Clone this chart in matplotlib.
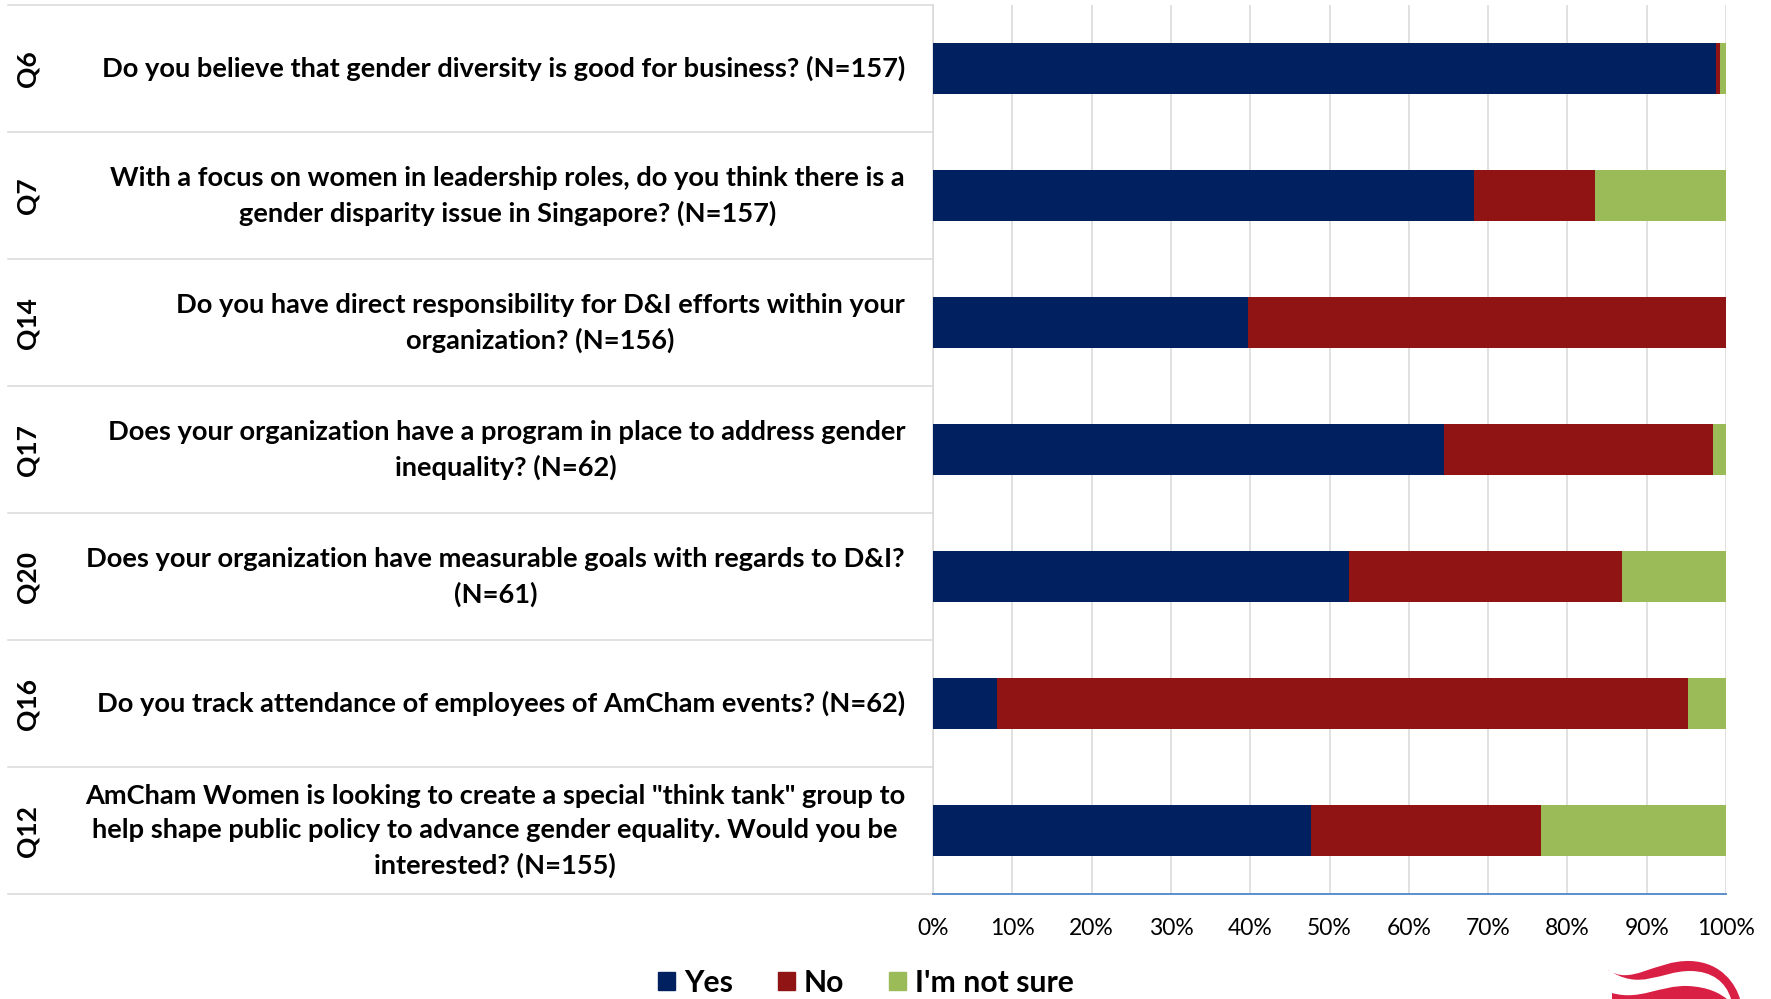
import numpy as np
import matplotlib
matplotlib.use("Agg")
import matplotlib.pyplot as plt
from matplotlib.patches import Patch, PathPatch
from matplotlib.path import Path

plt.rcParams['font.family'] = ['Lato', 'DejaVu Sans']

# survey questions, top to bottom
qids = ['Q6', 'Q7', 'Q14', 'Q17', 'Q20', 'Q16', 'Q12']
questions = [
    'Do you believe that gender diversity is good for business? (N=157)',
    'With a focus on women in leadership roles, do you think there is a\n'
    'gender disparity issue in Singapore? (N=157)',
    'Do you have direct responsibility for D&I efforts within your\n'
    'organization? (N=156)',
    'Does your organization have a program in place to address gender\n'
    'inequality? (N=62)',
    'Does your organization have measurable goals with regards to D&I?\n'
    '(N=61)',
    'Do you track attendance of employees of AmCham events? (N=62)',
    'AmCham Women is looking to create a special "think tank" group to\n'
    'help shape public policy to advance gender equality. Would you be\n'
    'interested? (N=155)',
]

# share of answers, percent
yes = [98.7, 68.2, 39.7, 64.5, 52.5, 8.1, 47.7]
no = [0.6, 15.3, 60.3, 33.9, 34.4, 87.1, 29.0]
not_sure = [0.7, 16.5, 0.0, 1.6, 13.1, 4.8, 23.3]

series = ['Yes', 'No', "I'm not sure"]
colors = ['#002060', '#901414', '#9BBB59']
grid_c = '#d9d9d9'

W, H = 1771, 999
fig = plt.figure(figsize=(W / 100, H / 100), dpi=100)
ax = fig.add_axes([933 / W, 1 - 894.3 / H, 793 / W, 889 / H])

y = np.arange(len(qids))
left = np.zeros(len(qids))
for vals, c, name in zip([yes, no, not_sure], colors, series):
    ax.barh(y, vals, left=left, height=0.4, color=c, label=name, zorder=3)
    left += np.array(vals)

ax.set_xlim(0, 100)
ax.set_ylim(len(qids) - 0.5, -0.5)
ax.set_xticks(np.arange(0, 101, 10))
ax.set_xticklabels([f'{v}%' for v in range(0, 101, 10)], fontsize=16.5)
ax.tick_params(axis='x', length=0, pad=17)
ax.set_yticks([])
ax.grid(axis='x', color=grid_c, lw=1.1, zorder=0)

for s in ['top', 'right']:
    ax.spines[s].set_visible(False)
ax.spines['left'].set_color(grid_c)
ax.spines['left'].set_linewidth(1.1)
ax.spines['bottom'].set_color('#5B8FCB')
ax.spines['bottom'].set_linewidth(1.4)
ax.spines['bottom'].set_zorder(4)

# table-style category area on the left
x_edge = (8 - 933) / 793
for yy in np.arange(-0.5, len(qids), 1.0):
    ax.plot([x_edge, 0], [yy, yy], color=grid_c, lw=1.1,
            transform=ax.get_yaxis_transform(), clip_on=False)

for i, (q, txt) in enumerate(zip(qids, questions)):
    ax.text(-0.0353, i, txt, transform=ax.get_yaxis_transform(),
            ha='right', va='center', multialignment='center',
            fontsize=19.6, fontweight='bold', linespacing=1.5)
    ax.text((28 - 933) / 793, i, q, transform=ax.get_yaxis_transform(),
            ha='center', va='center', rotation=90,
            fontsize=19, fontweight='bold')

handles = [Patch(color=c, label=n) for c, n in zip(colors, series)]
fig.legend(handles=handles, loc='center', ncol=3, frameon=False,
           bbox_to_anchor=(866 / W, 1 - 983 / H),
           prop={'size': 21.7, 'weight': 'bold'},
           handlelength=0.55, handleheight=0.55, handletextpad=0.3,
           columnspacing=1.5)

# corner logo swooshes
def px(x, yy):
    return (x / W, 1 - yy / H)

red = '#D91F43'
top_pts = [px(1607, 969), px(1630, 987), px(1655, 960), px(1690, 961),
           px(1722, 962), px(1736, 985), px(1740, 999),
           px(1731, 999),
           px(1726, 982), px(1712, 971), px(1690, 971),
           px(1660, 971), px(1640, 992), px(1607, 969)]
top_codes = [Path.MOVETO, Path.CURVE4, Path.CURVE4, Path.CURVE4,
             Path.CURVE4, Path.CURVE4, Path.CURVE4,
             Path.LINETO,
             Path.CURVE4, Path.CURVE4, Path.CURVE4,
             Path.CURVE4, Path.CURVE4, Path.CURVE4]
low_pts = [px(1612, 993), px(1640, 1001), px(1660, 985), px(1688, 986),
           px(1708, 987), px(1720, 993), px(1728, 1000),
           px(1612, 1000), px(1612, 993)]
low_codes = [Path.MOVETO, Path.CURVE4, Path.CURVE4, Path.CURVE4,
             Path.CURVE4, Path.CURVE4, Path.CURVE4,
             Path.LINETO, Path.CLOSEPOLY]
for pts, codes in [(top_pts, top_codes), (low_pts, low_codes)]:
    fig.add_artist(PathPatch(Path(pts, codes), facecolor=red, edgecolor='none',
                             transform=fig.transFigure))

fig.savefig('out.png', dpi=100)
